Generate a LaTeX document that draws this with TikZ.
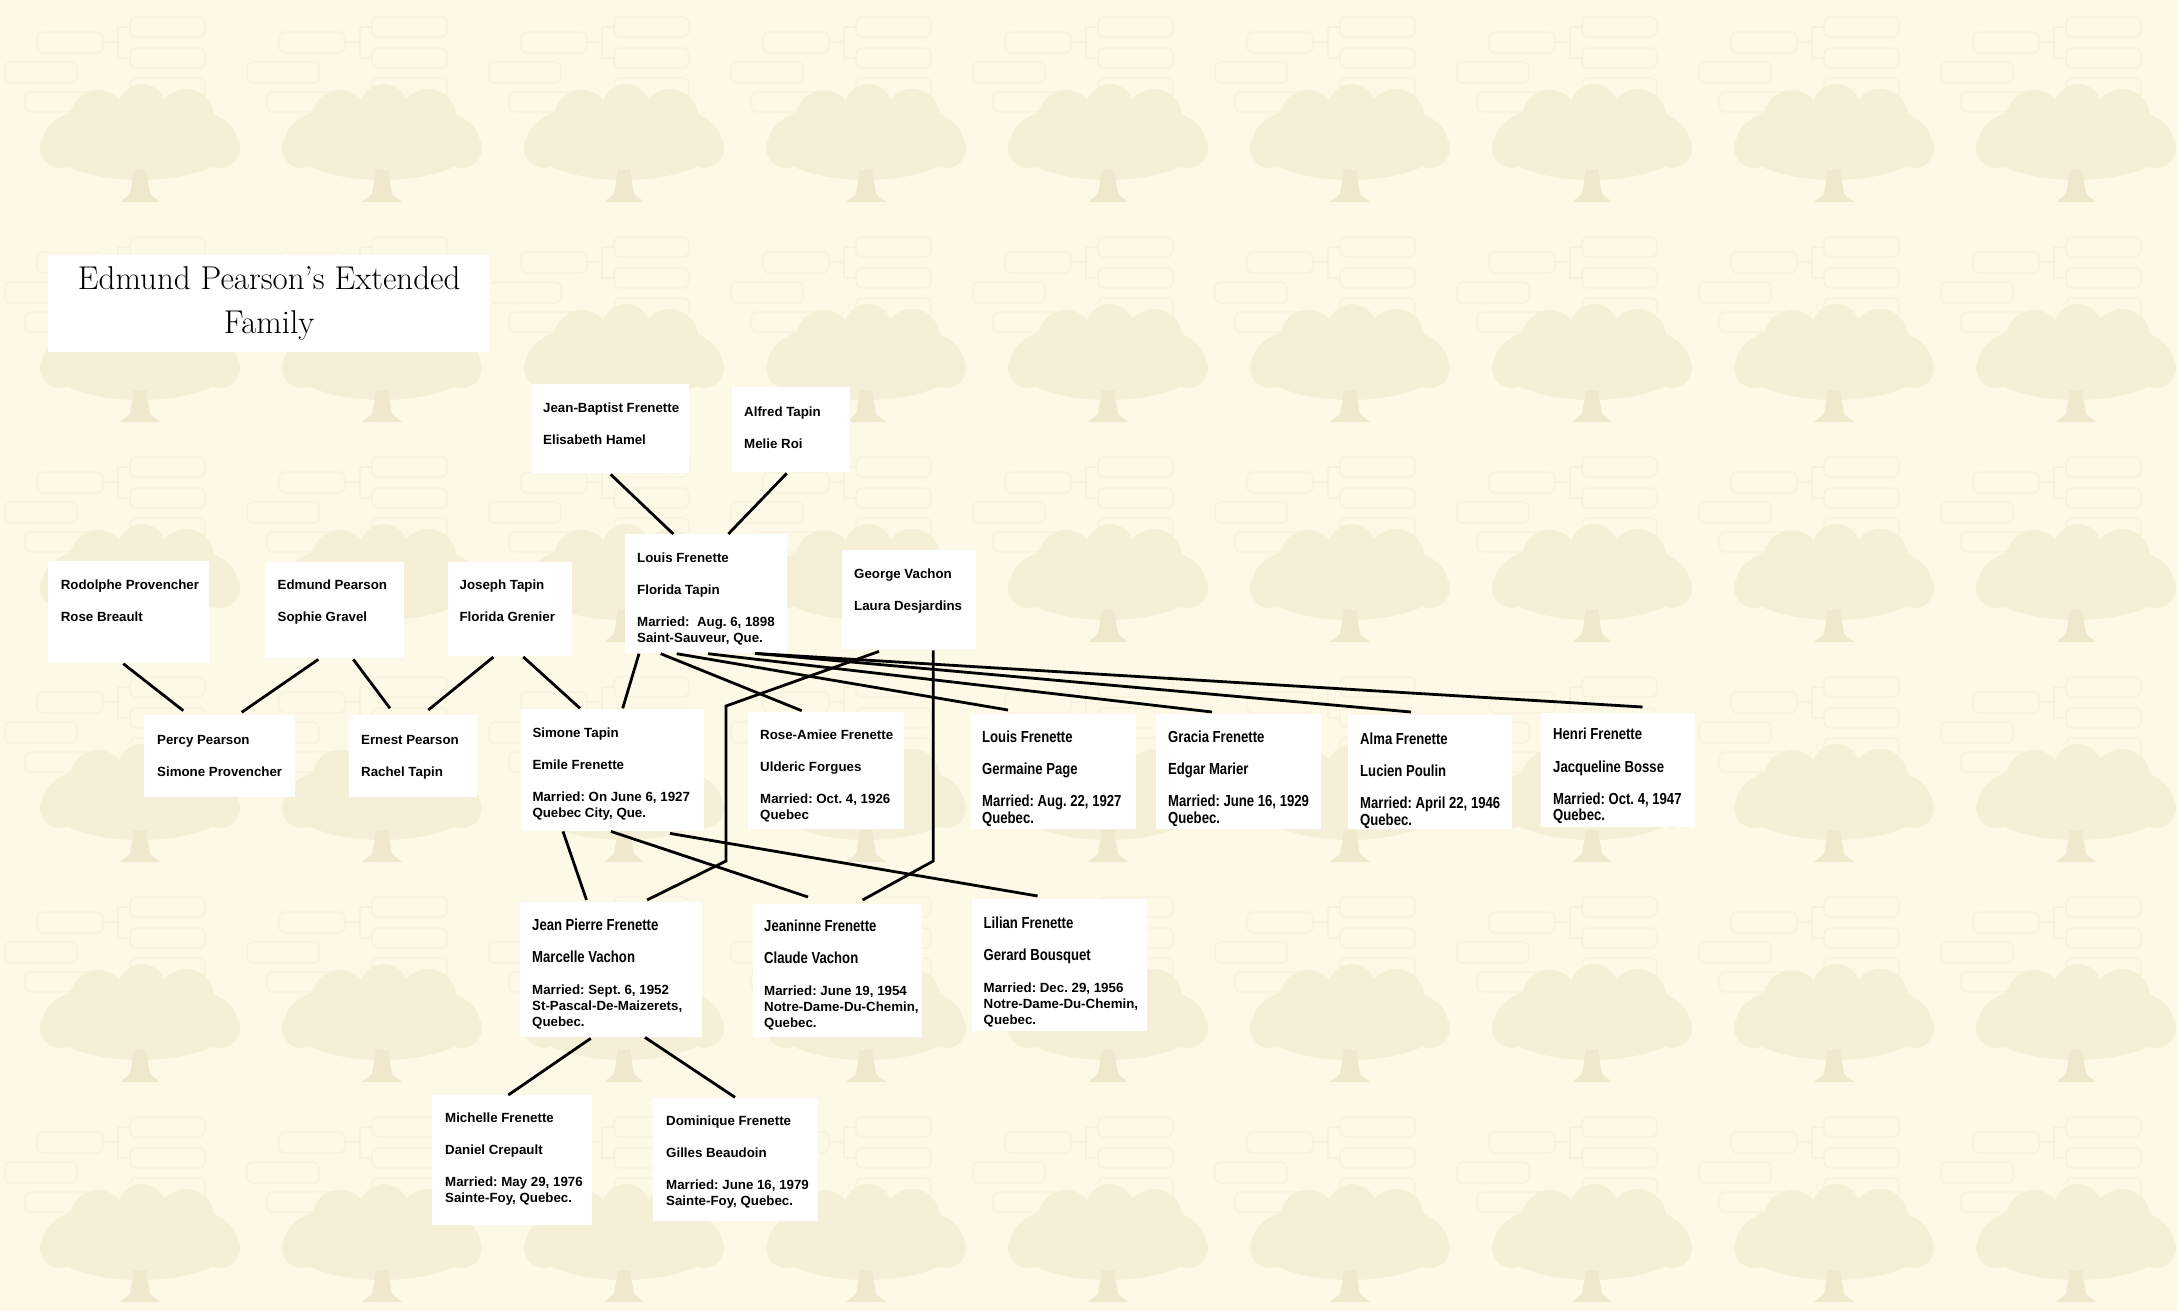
\documentclass[tikz,border=0pt]{standalone}
\usepackage{fontspec}
\usetikzlibrary{calc}
\frenchspacing
\newfontfamily\cardfont{Liberation Sans}
\newfontfamily\narrowfont{Liberation Sans}[FakeStretch=0.82]
\definecolor{bgc}{RGB}{254,249,230}
\definecolor{treec}{RGB}{245,239,215}
\definecolor{treed}{RGB}{240,232,205}
\definecolor{wmline}{RGB}{247,241,221}
\newcommand\nw[1]{{\narrowfont\bfseries\fontsize{16}{16}\selectfont #1}}
\newcommand\famcard[9]{%
  \pgfmathsetmacro\fcw{#5-2*#8}\pgfmathsetmacro\fcd{#6-#7}%
  \node[#1, inner xsep=#8pt, text height=#7pt, text depth=\fcd pt] (#2) at (#3,#4)
   {\makebox[\fcw pt][l]{\begin{tabular}[t]{@{}l@{}}#9\end{tabular}}};}
\tikzset{
  card/.style={fill=white, anchor=north west, inner ysep=0pt,
    font=\cardfont\bfseries\frenchspacing\fontsize{13.3}{16}\selectfont},
  narrowcard/.style={card, font=\narrowfont\bfseries\frenchspacing\fontsize{16}{16}\selectfont},
  conn/.style={line width=2.8pt, black},
  wmbox/.style={draw=wmline, line width=1.2pt, rounded corners=6pt},
}
\begin{document}
\begin{tikzpicture}[x=1pt, y=-1pt]
\useasboundingbox (0,0) rectangle (2178,1311);
\fill[bgc] (0,0) rectangle (2178,1311);
% faint tiled watermark
\foreach \i in {0,...,8}{
 \foreach \j in {0,...,5}{
  \begin{scope}[shift={(\i*242,\j*220)}]
   \draw[wmbox] (37,32) rectangle (103,53);
   \draw[wmbox] (130,17) rectangle (205,37);
   \draw[wmbox] (130,48) rectangle (205,68);
   \draw[wmbox] (5,62) rectangle (77,83);
   \draw[wmbox] (130,78) rectangle (205,98);
   \draw[wmbox] (25,92) rectangle (100,112);
   \draw[wmline, line width=1.2pt] (103,42) -- (118,42) (118,27) -- (118,58) (118,27) -- (130,27) (118,58) -- (130,58);
   \fill[treec] (140,140) ellipse [x radius=97, y radius=40];
   \fill[treec] (98,118) circle [radius=28];
   \fill[treec] (142,108) circle [radius=24];
   \fill[treec] (186,117) circle [radius=28];
   \fill[treec] (60,148) circle [radius=20];
   \fill[treec] (220,148) circle [radius=20];
   \fill[treed] (134,170) -- (146,170) -- (150,194) -- (160,202) -- (120,202) -- (130,194) -- cycle;
  \end{scope}
 }
}
% title
\node[fill=white, anchor=north west, inner sep=0pt, minimum width=442pt, minimum height=97pt,
  align=center, font=\fontsize{33}{44}\selectfont] (title) at (48,255)
  {Edmund Pearson's Extended\\Family};
% cards: style, name, x, y, w, h, first baseline, inset, text
\famcard{card}{jb}{532}{384}{157}{89}{28.7}{11}{Jean-Baptist Frenette\\[16pt]Elisabeth Hamel}
\famcard{card}{alfred}{732}{387}{118}{85}{29.7}{12}{Alfred Tapin\\[16pt]Melie Roi}
\famcard{card}{louis}{625}{534}{162}{119}{28.7}{12}{Louis Frenette\\[16pt]Florida Tapin\\[16pt]Married:\ \ Aug. 6, 1898\\Saint-Sauveur, Que.}
\famcard{card}{george}{842}{550}{134}{99}{28.3}{12}{George Vachon\\[16pt]Laura Desjardins}
\famcard{card}{rod}{47.6}{560.3}{161}{102}{29}{13}{Rodolphe Provencher\\[16pt]Rose Breault}
\famcard{card}{edm}{264.5}{562}{139}{96}{27.6}{13}{Edmund Pearson\\[16pt]Sophie Gravel}
\famcard{card}{jos}{448}{562}{124}{94}{27.6}{11.4}{Joseph Tapin\\[16pt]Florida Grenier}
\famcard{card}{percy}{144}{715}{151}{82}{29}{13}{Percy Pearson\\[16pt]Simone Provencher}
\famcard{card}{ernest}{349}{714.6}{128}{82}{29.5}{12}{Ernest Pearson\\[16pt]Rachel Tapin}
\famcard{card}{simone}{520.7}{708.3}{183}{122}{29}{11.6}{Simone Tapin\\[16pt]Emile Frenette\\[16pt]Married: On June 6, 1927\\Quebec City, Que.}
\famcard{card}{rose}{748}{711.7}{156}{117}{27.3}{12}{Rose-Amiee Frenette\\[16pt]Ulderic Forgues\\[16pt]Married: Oct. 4, 1926\\Quebec}
\famcard{narrowcard}{louistwo}{970.5}{714}{165}{115}{28}{11.5}{Louis Frenette\\[16pt]Germaine Page\\[16pt]Married: Aug. 22, 1927\\Quebec.}
\famcard{narrowcard}{gracia}{1156}{714}{165}{115}{28}{12}{Gracia Frenette\\[16pt]Edgar Marier\\[16pt]Married: June 16, 1929\\Quebec.}
\famcard{narrowcard}{alma}{1348}{715}{164}{114}{29}{12}{Alma Frenette\\[16pt]Lucien Poulin\\[16pt]Married: April 22, 1946\\Quebec.}
\famcard{narrowcard}{henri}{1540.5}{712.6}{154}{114}{27}{12.5}{Henri Frenette\\[16pt]Jacqueline Bosse\\[16pt]Married: Oct. 4, 1947\\Quebec.}
\famcard{card}{jp}{520}{902}{181.5}{135}{28}{12}{\nw{Jean Pierre Frenette}\\[16pt]\nw{Marcelle Vachon}\\[16pt]Married: Sept. 6, 1952\\St-Pascal-De-Maizerets,\\Quebec.}
\famcard{card}{jea}{753}{904}{169}{133}{27}{11}{\nw{Jeaninne Frenette}\\[16pt]\nw{Claude Vachon}\\[16pt]Married: June 19, 1954\\Notre-Dame-Du-Chemin,\\Quebec.}
\famcard{card}{lil}{972}{899}{175}{132}{29}{11.5}{\nw{Lilian Frenette}\\[16pt]\nw{Gerard Bousquet}\\[16pt]Married: Dec. 29, 1956\\Notre-Dame-Du-Chemin,\\Quebec.}
\famcard{card}{mich}{431.7}{1095}{160}{130}{27.7}{13.3}{Michelle Frenette\\[16pt]Daniel Crepault\\[16pt]Married: May 29, 1976\\Sainte-Foy, Quebec.}
\famcard{card}{dom}{652.7}{1097.3}{165}{123}{27.7}{13.3}{Dominique Frenette\\[16pt]Gilles Beaudoin\\[16pt]Married: June 16, 1979\\Sainte-Foy, Quebec.}
% connectors
\draw[conn] ($(jb.south west)+(78.7,1)$) -- ($(louis.north west)+(48.3,0)$);
\draw[conn] ($(alfred.south west)+(54.7,1)$) -- ($(louis.north west)+(103.3,0)$);
\draw[conn] ($(rod.south west)+(75.7,1)$) -- ($(percy.north west)+(39.3,-4.3)$);
\draw[conn] ($(edm.south west)+(53.8,1)$) -- ($(percy.north west)+(97.7,-2.7)$);
\draw[conn] ($(edm.south west)+(88.8,1)$) -- ($(ernest.north west)+(41,-6.3)$);
\draw[conn] ($(jos.south west)+(45.3,0.7)$) -- ($(ernest.north west)+(79.3,-4.6)$);
\draw[conn] ($(jos.south west)+(75.3,0.5)$) -- ($(simone.north west)+(59.3,0)$);
\draw[conn] ($(louis.south west)+(14,0.3)$) -- ($(simone.north west)+(102,0)$);
\draw[conn] ($(louis.south west)+(35.7,0.3)$) -- ($(rose.north west)+(53.7,-1)$);
\draw[conn] ($(louis.south west)+(51.7,0.3)$) -- ($(louistwo.north west)+(37.5,-4)$);
\draw[conn] ($(louis.south west)+(83,0.3)$) -- ($(gracia.north west)+(56,-2)$);
\draw[conn] ($(louis.south west)+(130,0)$) -- ($(alma.north west)+(63,-3)$);
\draw[conn] ($(louis.south west)+(130,0)$) -- ($(henri.north west)+(102,-5.6)$);
\coordinate (gbendA) at (726,706);
\coordinate (gbendB) at (726,861);
\coordinate (gbendC) at (933.3,861);
\draw[conn] ($(george.south west)+(37,2)$) -- (gbendA) -- (gbendB) -- ($(jp.north west)+(127,-2)$);
\draw[conn] ($(george.south west)+(91.3,1)$) -- (gbendC) -- ($(jea.north west)+(109.6,-4)$);
\draw[conn] ($(simone.south west)+(42.3,0.7)$) -- ($(jp.north west)+(66.5,-2)$);
\draw[conn] ($(simone.south west)+(90.3,0.7)$) -- ($(jea.north west)+(55,-7)$);
\draw[conn] ($(simone.south west)+(149.3,2.7)$) -- ($(lil.north west)+(65.6,-3)$);
\draw[conn] ($(jp.south west)+(70.7,1)$) -- ($(mich.north west)+(76.6,0)$);
\draw[conn] ($(jp.south west)+(125,0)$) -- ($(dom.north west)+(82.3,0)$);
\end{tikzpicture}
\end{document}
